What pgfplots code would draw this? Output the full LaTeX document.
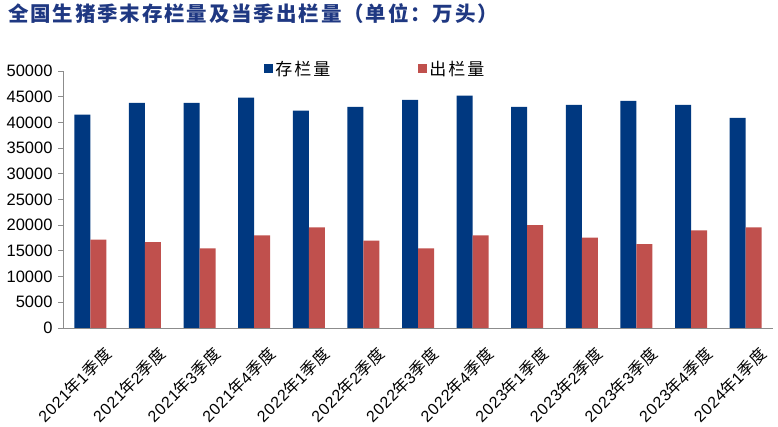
\documentclass[border=0pt]{standalone}
\usepackage{fontspec}
\setmainfont{Liberation Sans}
\newfontfamily\cjk{Noto Sans CJK SC}
\newfontfamily\cjkt[LetterSpace=9]{Noto Sans CJK SC}
\newfontfamily\cjkl[LetterSpace=12]{Noto Sans CJK SC}
\newfontfamily\cjkx[LetterSpace=6]{Noto Sans CJK SC}
\newfontfamily\latx[LetterSpace=4]{Liberation Sans}
\usepackage{pgfplots}
\pgfplotsset{compat=1.18}
\definecolor{cblue}{RGB}{0,56,128}
\definecolor{cred}{RGB}{192,80,77}
\definecolor{ctitle}{RGB}{31,56,130}
\definecolor{caxis}{RGB}{140,140,140}
\newcommand{\q}[2]{{\latx #1}{\cjkx 年}{\latx #2}{\cjkx 季度}}
\begin{document}
\begin{tikzpicture}
\useasboundingbox (0pt,0pt) rectangle (778pt,427pt);
\node[anchor=west, text=ctitle, font=\cjkt\bfseries\fontsize{20.5}{21}\selectfont, inner sep=0pt] at (8pt,413pt) {全国生猪季末存栏量及当季出栏量（单位：万头）};
\begin{axis}[
  at={(63pt,99pt)}, anchor=south west, scale only axis,
  width=710pt, height=257pt,
  ymin=0, ymax=50000, xmin=-0.5, xmax=12.5,
  ybar=0pt, bar width=16pt,
  axis lines*=left, axis line style={caxis, line width=0.8pt, -},
  ytick={0,5000,...,50000},
  scaled y ticks=false,
  /pgf/number format/assume math mode=true,
  yticklabel style={/pgf/number format/1000 sep={}, font=\fontsize{16.5}{17}\selectfont, xshift=-2pt},
  y tick style={caxis, line width=0.8pt},
  tick align=outside, major tick length=5pt,
  xtick={0,...,12}, x tick style={draw=none},
  minor xtick={-0.5,0.5,...,12.5}, minor x tick style={caxis, line width=0.8pt}, minor tick length=6pt,
  xticklabels={\q{2021}{1},\q{2021}{2},\q{2021}{3},\q{2021}{4},\q{2022}{1},\q{2022}{2},\q{2022}{3},\q{2022}{4},\q{2023}{1},\q{2023}{2},\q{2023}{3},\q{2023}{4},\q{2024}{1}},
  xticklabel style={rotate=45, anchor=north east, font=\fontsize{16}{16}\selectfont, yshift=-17pt, xshift=1pt, inner sep=1pt},
  legend style={at={(0.44,1.008)}, anchor=center, draw=none, fill=none, legend columns=2,
    font=\cjkl\fontsize{17}{17}\selectfont,
    /tikz/every even column/.append style={column sep=86pt}},
  legend image code/.code={\fill[#1] (0pt,-4.5pt) rectangle (9pt,4.5pt);},
]
\addplot[fill=cblue, draw=none] coordinates {(0,41500) (1,43800) (2,43800) (3,44800) (4,42300) (5,43000) (6,44400) (7,45200) (8,43000) (9,43400) (10,44200) (11,43400) (12,40900)};
\addlegendentry{存栏量}
\addplot[fill=cred, draw=none] coordinates {(0,17200) (1,16700) (2,15500) (3,18000) (4,19600) (5,17000) (6,15500) (7,18000) (8,20000) (9,17600) (10,16300) (11,19000) (12,19600)};
\addlegendentry{出栏量}
\end{axis}
\end{tikzpicture}
\end{document}
